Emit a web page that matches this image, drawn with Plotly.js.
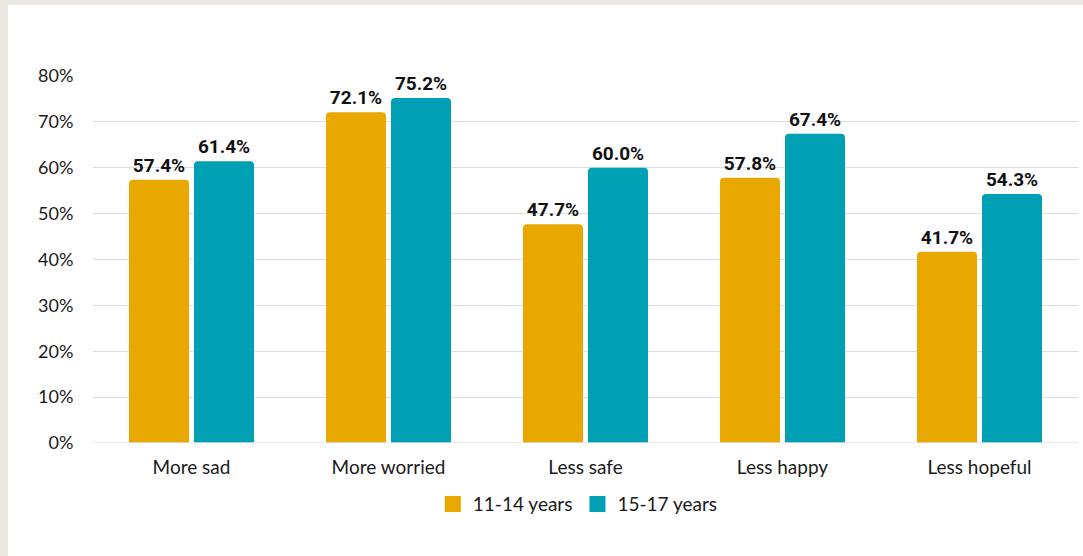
<!DOCTYPE html>
<html>
<head>
<meta charset="utf-8">
<script src="https://cdn.plot.ly/plotly-3.0.1.min.js"></script>
<style>
  html, body { margin: 0; padding: 0; background: #ebe8e1; width: 1083px; height: 556px; overflow: hidden; }
  #chart { position: absolute; left: 8px; top: 5px; width: 1075px; height: 551px; background: #ffffff; }
</style>
</head>
<body>
<div id="chart"></div>
<script>
const categories = ["More sad", "More worried", "Less safe", "Less happy", "Less hopeful"];
const series1Name = "11-14 years";
const series2Name = "15-17 years";
const series1 = [0.574, 0.721, 0.477, 0.578, 0.417];
const series2 = [0.614, 0.752, 0.600, 0.674, 0.543];
const yTickVals = [0, 0.1, 0.2, 0.3, 0.4, 0.5, 0.6, 0.7, 0.8];

const color1 = "#e8a800";
const color2 = "#00a0b4";
const baseFont = "Lato, 'Noto Sans', sans-serif";
const labelFont = { family: "Roboto, sans-serif", size: 19, color: "#111111", weight: 700 };

function mkBar(name, vals, color) {
  return {
    type: "bar",
    name: name,
    x: categories,
    y: vals,
    marker: { color: color, cornerradius: 4, line: { width: 0 } },
    text: vals.map(v => (v * 100).toFixed(1) + "%"),
    textposition: "outside",
    textfont: labelFont,
    cliponaxis: false,
    hoverinfo: "skip",
    showlegend: false
  };
}

function mkLegend(name, color) {
  return {
    type: "scatter",
    mode: "markers",
    name: name,
    x: [null],
    y: [null],
    marker: { symbol: "square", size: 16, color: color },
    showlegend: true,
    hoverinfo: "skip"
  };
}

const data = [
  mkBar(series1Name, series1, color1),
  mkBar(series2Name, series2, color2),
  mkLegend(series1Name, color1),
  mkLegend(series2Name, color2)
];

const layout = {
  width: 1075,
  height: 551,
  paper_bgcolor: "#ffffff",
  plot_bgcolor: "#ffffff",
  margin: { l: 85, r: 5, t: 71, b: 113 },
  barmode: "group",
  bargap: 0.34,
  bargroupgap: 0.077,
  font: { family: baseFont, size: 18, color: "#1a1a1a" },
  xaxis: {
    type: "category",
    tickfont: { family: baseFont, size: 19, color: "#1a1a1a" },
    showgrid: false,
    zeroline: false,
    showline: false,
    ticks: "outside",
    ticklen: 7,
    tickcolor: "rgba(0,0,0,0)"
  },
  yaxis: {
    range: [0, 0.8],
    tickvals: yTickVals,
    tickformat: ".0%",
    tickfont: { family: baseFont, size: 18, color: "#1a1a1a" },
    showgrid: true,
    gridcolor: "#dddddd",
    gridwidth: 1,
    zeroline: false,
    showline: false,
    ticks: "outside",
    ticklen: 15,
    tickcolor: "rgba(0,0,0,0)",
    fixedrange: true
  },
  shapes: [{
    type: "line", xref: "paper", yref: "y", x0: 0, x1: 1, y0: 0, y1: 0,
    line: { color: "rgba(225,225,225,0.75)", width: 2 }, layer: "above"
  }],
  legend: {
    orientation: "h",
    x: 0.345, xanchor: "left",
    y: -0.115, yanchor: "top",
    font: { family: baseFont, size: 19, color: "#1a1a1a" },
    itemwidth: 30,
    tracegroupgap: 0,
    traceorder: "normal"
  },
  showlegend: true
};

Plotly.newPlot("chart", data, layout, { displayModeBar: false, staticPlot: true });
</script>
</body>
</html>
